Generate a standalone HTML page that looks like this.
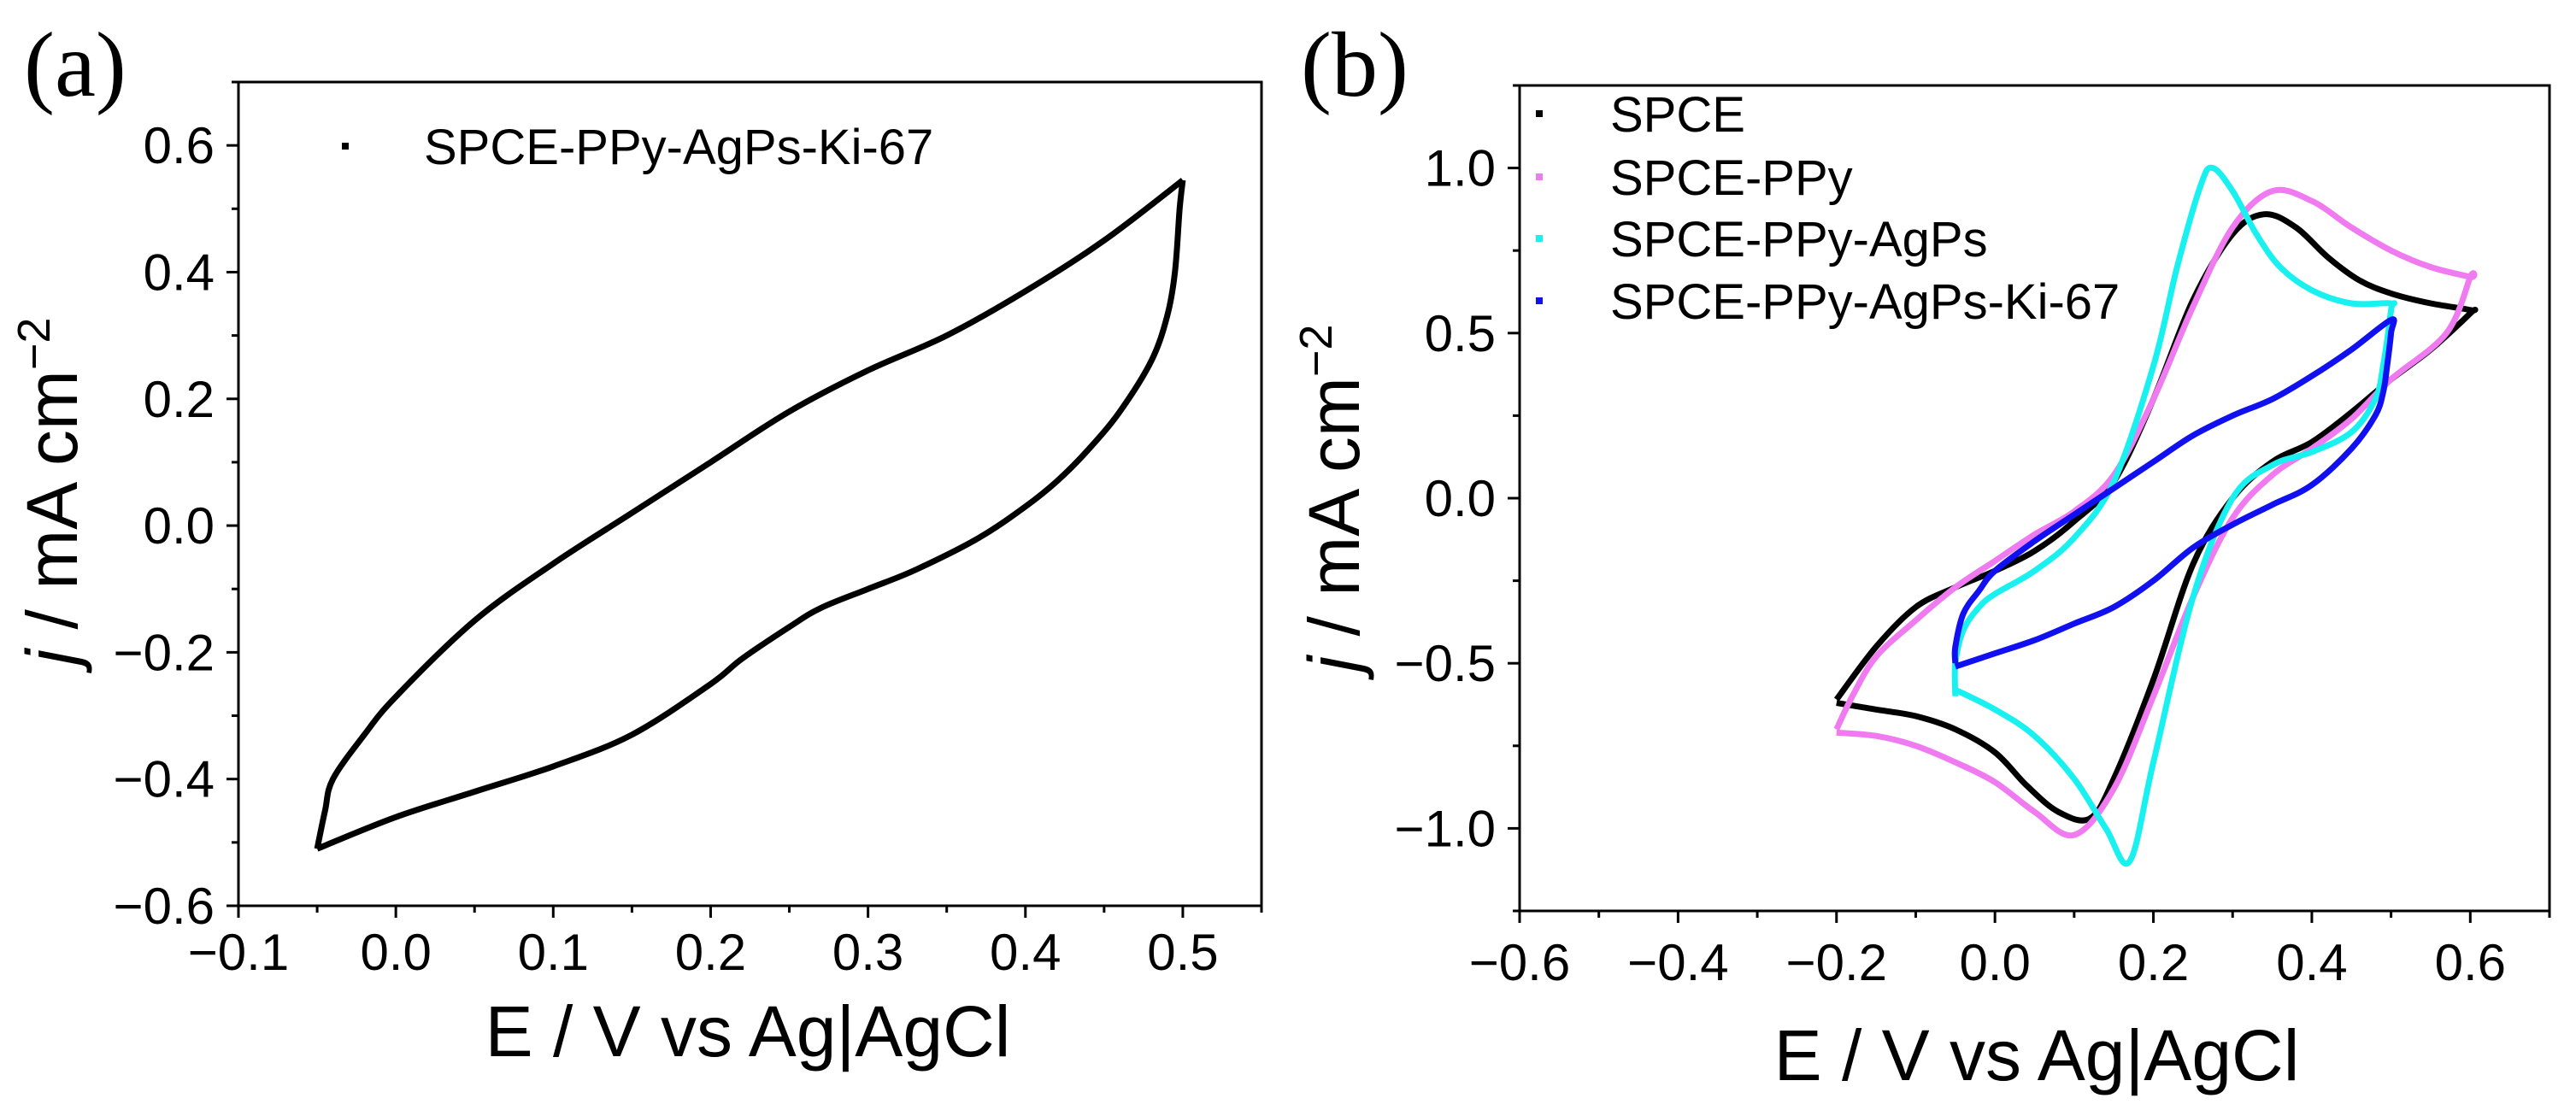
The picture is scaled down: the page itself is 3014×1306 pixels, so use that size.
<!DOCTYPE html>
<html><head><meta charset="utf-8"><style>
html,body{margin:0;padding:0;background:#fff;overflow:hidden;}
svg{display:block;font-family:"Liberation Sans",sans-serif;}
</style></head><body>
<svg id="fig" width="3014" height="1306" viewBox="0 0 3014 1306" xmlns="http://www.w3.org/2000/svg"></svg>
<script>
// Panel (a) data
const aUpX=[-0.05,-0.045,-0.04,-0.02,0,0.05,0.1,0.15,0.2,0.25,0.3,0.35,0.4,0.45,0.5];
const aUpY=[-0.51,-0.45,-0.4,-0.33,-0.27,-0.15,-0.06,0.02,0.1,0.18,0.245,0.3,0.37,0.45,0.545];
const aDnX=[0.5,0.498,0.495,0.49,0.48,0.46,0.44,0.42,0.4,0.37,0.33,0.3,0.27,0.25,0.22,0.2,0.15,0.1,0.05,0,-0.05];
const aDnY=[0.545,0.5,0.4,0.33,0.26,0.18,0.12,0.07,0.03,-0.02,-0.07,-0.1,-0.13,-0.16,-0.21,-0.25,-0.33,-0.38,-0.42,-0.46,-0.51];
// Panel (b) data
const spceX=[-0.2,-0.15,-0.1,-0.05,0,0.05,0.1,0.15,0.2,0.25,0.3,0.34,0.38,0.42,0.46,0.5,0.55,0.6,0.6,0.55,0.5,0.45,0.4,0.35,0.3,0.25,0.2,0.15,0.12,0.08,0.04,0,-0.05,-0.1,-0.15,-0.2];
const spceY=[-0.61,-0.45,-0.33,-0.27,-0.22,-0.16,-0.07,0.05,0.3,0.6,0.8,0.86,0.82,0.73,0.66,0.62,0.59,0.57,0.56,0.45,0.36,0.26,0.17,0.11,0.0,-0.2,-0.55,-0.85,-0.97,-0.95,-0.87,-0.77,-0.7,-0.66,-0.64,-0.62];
const ppyX=[-0.2,-0.18,-0.15,-0.1,-0.05,0,0.05,0.1,0.15,0.2,0.25,0.3,0.35,0.4,0.45,0.5,0.55,0.6,0.6,0.57,0.5,0.45,0.4,0.35,0.3,0.25,0.2,0.15,0.1,0.05,0,-0.05,-0.1,-0.15,-0.2];
const ppyY=[-0.7,-0.6,-0.48,-0.37,-0.27,-0.19,-0.11,-0.04,0.07,0.3,0.58,0.82,0.93,0.9,0.82,0.75,0.7,0.67,0.67,0.5,0.36,0.24,0.15,0.07,-0.06,-0.3,-0.6,-0.88,-1.02,-0.95,-0.86,-0.8,-0.75,-0.72,-0.71];
const agX=[-0.05,-0.05,-0.04,-0.02,0,0.05,0.1,0.15,0.2,0.23,0.26,0.275,0.3,0.33,0.36,0.4,0.45,0.5,0.5,0.49,0.48,0.45,0.4,0.35,0.3,0.25,0.2,0.17,0.14,0.1,0.05,0,-0.05];
const agY=[-0.6,-0.5,-0.4,-0.33,-0.29,-0.22,-0.12,0.05,0.4,0.7,0.95,1.0,0.93,0.8,0.7,0.63,0.59,0.59,0.57,0.4,0.3,0.2,0.14,0.1,0.0,-0.3,-0.8,-1.1,-1.0,-0.85,-0.72,-0.64,-0.58];
const kiX=[-0.05,-0.05,-0.04,-0.02,0,0.05,0.1,0.15,0.2,0.25,0.3,0.35,0.4,0.45,0.5,0.5,0.495,0.49,0.48,0.45,0.4,0.35,0.3,0.25,0.2,0.15,0.1,0.05,0,-0.05];
const kiY=[-0.5,-0.45,-0.35,-0.28,-0.22,-0.13,-0.05,0.03,0.11,0.19,0.25,0.3,0.37,0.45,0.54,0.5,0.4,0.32,0.25,0.15,0.04,-0.02,-0.08,-0.15,-0.25,-0.33,-0.38,-0.43,-0.47,-0.51];
const aXTicks=[-0.1,0,0.1,0.2,0.3,0.4,0.5];
const aXLabels=["\u22120.1","0.0","0.1","0.2","0.3","0.4","0.5"];
const aYTicks=[-0.6,-0.4,-0.2,0,0.2,0.4,0.6];
const aYLabels=["\u22120.6","\u22120.4","\u22120.2","0.0","0.2","0.4","0.6"];
const bXTicks=[-0.6,-0.4,-0.2,0,0.2,0.4,0.6];
const bXLabels=["\u22120.6","\u22120.4","\u22120.2","0.0","0.2","0.4","0.6"];
const bYTicks=[-1.0,-0.5,0,0.5,1.0];
const bYLabels=["\u22121.0","\u22120.5","0.0","0.5","1.0"];

const NS="http://www.w3.org/2000/svg";
const svg=document.getElementById('fig');
function mk(tag,attrs,parent){const e=document.createElementNS(NS,tag);for(const k in attrs)e.setAttribute(k,attrs[k]);(parent||svg).appendChild(e);return e;}
function txt(s,attrs,parent){const e=mk('text',attrs,parent);e.textContent=s;return e;}
function smooth(P){
  let d='M'+P[0][0].toFixed(1)+','+P[0][1].toFixed(1);
  for(let i=0;i<P.length-1;i++){
    const p0=P[Math.max(0,i-1)],p1=P[i],p2=P[i+1],p3=P[Math.min(P.length-1,i+2)];
    const c1=[p1[0]+(p2[0]-p0[0])/6,p1[1]+(p2[1]-p0[1])/6];
    const c2=[p2[0]-(p3[0]-p1[0])/6,p2[1]-(p3[1]-p1[1])/6];
    d+=' C'+c1.map(v=>v.toFixed(1)).join(',')+' '+c2.map(v=>v.toFixed(1)).join(',')+' '+p2[0].toFixed(1)+','+p2[1].toFixed(1);
  }
  return d;
}

function panel(cfg){
  const g=mk('g',{});
  
  
  const sx=v=>cfg.L+(v-cfg.x0)/(cfg.x1-cfg.x0)*(cfg.R-cfg.L);
  const sy=v=>cfg.B-(v-cfg.y0)/(cfg.y1-cfg.y0)*(cfg.B-cfg.T);
  cfg.series.forEach(s=>{
    const P=s.x.map((v,i)=>[sx(v),sy(s.y[i])]);
    const p=mk('path',{d:smooth(P),fill:'none',stroke:s.color,'stroke-width':7,'stroke-linejoin':'round','stroke-linecap':'butt'},g);
    
    
  });
  const fr=mk('rect',{x:cfg.L,y:cfg.T,width:cfg.R-cfg.L,height:cfg.B-cfg.T,fill:'none',stroke:'#000','stroke-width':3},g);
  
  
  const xdt=cfg.xTicks[1]-cfg.xTicks[0];
  for(let k=0;;k++){
    const v=cfg.xTicks[0]+k*xdt/2; if(v>cfg.x1+1e-9)break;
    const major=k%2===0;
    mk('line',{x1:sx(v),x2:sx(v),y1:cfg.B,y2:cfg.B+(major?14:8),stroke:'#000','stroke-width':3},g);
  }
  cfg.xTicks.forEach((v,i)=>{
    const t=txt(cfg.xLabels[i],{x:sx(v),y:cfg.xlb,'font-size':60,'text-anchor':'middle'},g);
    
    
  });
  const ydt=cfg.yTicks[1]-cfg.yTicks[0];
  for(let k=-4;k<40;k++){
    const v=cfg.yTicks[0]+k*ydt/2; if(v<cfg.y0-1e-9)continue; if(v>cfg.y1+1e-9)break;
    const major=((k%2)+2)%2===0;
    mk('line',{x1:cfg.L,x2:cfg.L-(major?14:8),y1:sy(v),y2:sy(v),stroke:'#000','stroke-width':3},g);
  }
  cfg.yTicks.forEach((v,i)=>{
    const t=txt(cfg.yLabels[i],{x:cfg.L-28,y:sy(v)+21,'font-size':60,'text-anchor':'end'},g);
    
    
  });
  const xt=txt('E / V vs Ag|AgCl',{x:cfg.xtx,y:cfg.xty,'font-size':84,'text-anchor':'middle'},g);
  
  
  const yt=mk('text',{x:0,y:0,'font-size':84,'text-anchor':'middle',transform:`translate(${cfg.ytx},${cfg.yty}) rotate(-90)`},g);
  yt.innerHTML='<tspan font-style="italic">j</tspan> / mA cm<tspan dy="-32" font-size="54">\u22122</tspan>';
  
  
  const pl=txt(cfg.letter,{x:cfg.lx,y:112,'font-size':108,'font-family':'"Liberation Serif",serif'},g);
  
  
  cfg.legend.forEach(l=>{
    const lg=mk('g',{},g);
    
    
    mk('rect',{x:l.mx-4,y:l.my-4,width:8,height:8,fill:l.color},lg);
    txt(l.text,{x:l.tx,y:l.my+21,'font-size':58},lg);
  });
}

panel({name:'panel-a',L:279,R:1476,T:96,B:1060,x0:-0.1,x1:0.55,y0:-0.6,y1:0.7,
  xTicks:aXTicks,xLabels:aXLabels,yTicks:aYTicks,yLabels:aYLabels,
  series:[{name:'ki67-forward',x:aUpX,y:aUpY,color:'#000'},{name:'ki67-reverse',x:aDnX,y:aDnY,color:'#000'}],
  xlb:1135,xtx:875,xty:1236,ytx:90,yty:575,letter:'(a)',lx:28,
  legend:[{mx:404,my:171,tx:496,text:'SPCE-PPy-AgPs-Ki-67',color:'#000'}]});

panel({name:'panel-b',L:1778,R:2983,T:100,B:1066,x0:-0.6,x1:0.7,y0:-1.25,y1:1.25,
  xTicks:bXTicks,xLabels:bXLabels,yTicks:bYTicks,yLabels:bYLabels,
  series:[{name:'spce-curve',x:spceX,y:spceY,color:'#000'},{name:'spce-ppy-curve',x:ppyX,y:ppyY,color:'#f07af0'},
          {name:'spce-ppy-agps-curve',x:agX,y:agY,color:'#19f0f0'},{name:'spce-ppy-agps-ki67-curve',x:kiX,y:kiY,color:'#1010f0'}],
  xlb:1147,xtx:2383,xty:1264,ytx:1590,yty:583,letter:'(b)',lx:1522,
  legend:[{mx:1801,my:133,tx:1884,text:'SPCE',color:'#000'},{mx:1801,my:207,tx:1884,text:'SPCE-PPy',color:'#f07af0'},
          {mx:1801,my:279,tx:1884,text:'SPCE-PPy-AgPs',color:'#19f0f0'},{mx:1801,my:352,tx:1884,text:'SPCE-PPy-AgPs-Ki-67',color:'#1010f0'}]});
</script>
</body></html>
